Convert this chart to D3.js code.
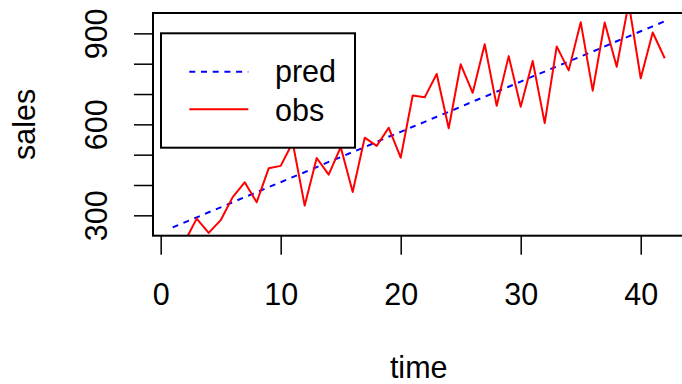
<!DOCTYPE html>
<html>
<head>
<meta charset="utf-8">
<script src="https://cdn.jsdelivr.net/npm/d3@7"></script>
<style>
  body { margin: 0; background: #fff; }
  text { font-family: "Liberation Sans", Arial, Helvetica, sans-serif; fill: #000; }
</style>
</head>
<body>
<div id="chart"></div>
<script>
// time index 1..42
var time = d3.range(1, 43);

// fitted trend (pred)
var pred = [260, 277, 293, 310, 326, 343, 360, 376, 393, 409,
            426, 442, 459, 476, 492, 509, 525, 542, 559, 575,
            592, 608, 625, 641, 658, 675, 691, 708, 724, 741,
            758, 774, 791, 807, 824, 840, 857, 874, 890, 907,
            923, 940];

var obs = [220, 213, 289, 242, 284, 360, 409, 343, 455, 463,
           540, 332, 489, 434, 525, 377, 556, 529, 589, 490,
           695, 689, 766, 587, 798, 704, 864, 661, 825, 658,
           809, 604, 857, 778, 937, 711, 936, 790, 1000, 752,
           903, 818];

var xTicks = [0, 10, 20, 30, 40];
var yTicks = [300, 400, 500, 600, 700, 800, 900];
var yLabels = [300, 600, 900];
var legendLabels = ["pred", "obs"];

var W = 682, H = 384;
var margin = { top: 13, left: 153 };
var plotW = 531.4, plotH = 222.7;
var fontSize = 30.5;

var svg = d3.select("#chart").append("svg")
  .attr("width", W)
  .attr("height", H);

// R style: extend ranges by 4%
var xr = d3.extent(time), xpad = (xr[1] - xr[0]) * 0.04;
var yr = d3.extent(pred), ypad = (yr[1] - yr[0]) * 0.04;

var x = d3.scaleLinear()
  .domain([xr[0] - xpad, xr[1] + xpad])
  .range([0, plotW]);

var y = d3.scaleLinear()
  .domain([yr[0] - ypad, yr[1] + ypad])
  .range([plotH, 0]);

var g = svg.append("g")
  .attr("transform", "translate(" + margin.left + "," + margin.top + ")");

g.append("clipPath").attr("id", "clip")
  .append("rect")
  .attr("width", plotW)
  .attr("height", plotH);

// lines
var line = d3.line()
  .x(function (d, i) { return x(time[i]); })
  .y(function (d) { return y(d); });

g.append("path")
  .datum(pred)
  .attr("clip-path", "url(#clip)")
  .attr("fill", "none")
  .attr("stroke", "#0000ff")
  .attr("stroke-width", 2)
  .attr("stroke-dasharray", "6,5.7")
  .attr("d", line);

g.append("path")
  .datum(obs)
  .attr("clip-path", "url(#clip)")
  .attr("fill", "none")
  .attr("stroke", "#ff0000")
  .attr("stroke-width", 2)
  .attr("stroke-linejoin", "round")
  .attr("d", line);

// axes
var xAxis = d3.axisBottom(x)
  .tickValues(xTicks)
  .tickSize(19)
  .tickFormat(d3.format("d"));

var gx = g.append("g")
  .attr("transform", "translate(0," + plotH + ")")
  .call(xAxis);
gx.select(".domain").remove();
gx.selectAll(".tick line").attr("stroke", "#000").attr("stroke-width", 1.5);
gx.selectAll(".tick text")
  .attr("y", 69.3)
  .attr("dy", null)
  .style("font-size", fontSize + "px")
  .style("font-family", "'Liberation Sans', Arial, sans-serif");

var yAxis = d3.axisLeft(y)
  .tickValues(yTicks)
  .tickSize(19)
  .tickFormat(function (d) { return yLabels.indexOf(d) >= 0 ? d : ""; });

var gy = g.append("g").call(yAxis);
gy.select(".domain").remove();
gy.selectAll(".tick line").attr("stroke", "#000").attr("stroke-width", 1.5);
gy.selectAll(".tick text")
  .attr("transform", "rotate(-90)")
  .attr("x", 0)
  .attr("y", -45.7)
  .attr("dy", null)
  .attr("text-anchor", "middle")
  .style("font-size", fontSize + "px")
  .style("font-family", "'Liberation Sans', Arial, sans-serif");

// plot box
g.append("rect")
  .attr("width", plotW)
  .attr("height", plotH)
  .attr("fill", "none")
  .attr("stroke", "#000")
  .attr("stroke-width", 2);

// axis titles
svg.append("text")
  .attr("x", margin.left + plotW / 2)
  .attr("y", 378.3)
  .attr("text-anchor", "middle")
  .style("font-size", fontSize + "px")
  .text("time");

svg.append("text")
  .attr("transform", "translate(" + 35 + "," + (margin.top + plotH / 2) + ") rotate(-90)")
  .attr("text-anchor", "middle")
  .style("font-size", fontSize + "px")
  .text("sales");

// legend
var legend = svg.append("g");
legend.append("rect")
  .attr("x", 161)
  .attr("y", 33.3)
  .attr("width", 194)
  .attr("height", 114.4)
  .attr("fill", "#fff")
  .attr("stroke", "#000")
  .attr("stroke-width", 2);

var legendColor = ["#0000ff", "#ff0000"];
var legendDash = ["6,5.7", null];

legend.selectAll(".lg-line")
  .data(legendLabels)
  .enter().append("line")
  .attr("class", "lg-line")
  .attr("x1", 189.3)
  .attr("x2", 248.3)
  .attr("y1", function (d, i) { return 71.7 + i * 37.6; })
  .attr("y2", function (d, i) { return 71.7 + i * 37.6; })
  .attr("stroke", function (d, i) { return legendColor[i]; })
  .attr("stroke-width", 2)
  .attr("stroke-dasharray", function (d, i) { return legendDash[i]; });

legend.selectAll(".lg-text")
  .data(legendLabels)
  .enter().append("text")
  .attr("class", "lg-text")
  .attr("x", 275)
  .attr("y", function (d, i) { return 82 + i * 38.5; })
  .style("font-size", fontSize + "px")
  .text(function (d) { return d; });
</script>
</body>
</html>
